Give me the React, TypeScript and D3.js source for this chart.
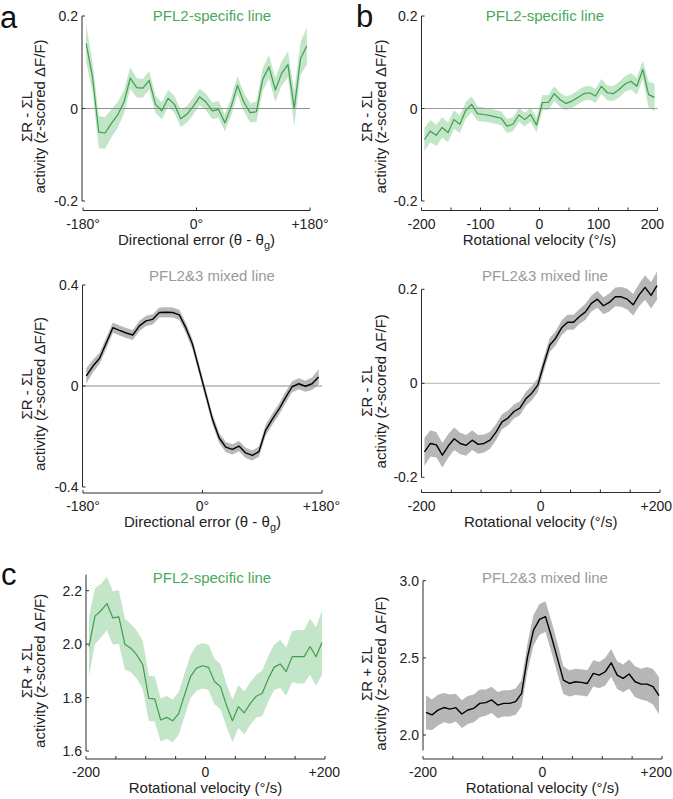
import React from 'react';
import * as d3 from 'd3';

// ---------- data ----------
const DIR_BINS = [-175, -165, -155, -145, -135, -125, -115, -105, -95, -85, -75, -65, -55, -45, -35, -25, -15, -5, 5, 15, 25, 35, 45, 55, 65, 75, 85, 95, 105, 115, 125, 135, 145, 155, 165, 175];
const VEL_BINS = [-195, -185, -175, -165, -155, -145, -135, -125, -115, -105, -95, -85, -75, -65, -55, -45, -35, -25, -15, -5, 5, 15, 25, 35, 45, 55, 65, 75, 85, 95, 105, 115, 125, 135, 145, 155, 165, 175, 185, 195];

// a (top): PFL2-specific, R-L vs directional error
const A1_MEAN = [0.141, 0.069, -0.051, -0.053, -0.032, -0.014, 0.014, 0.066, 0.045, 0.044, 0.061, 0.009, -0.005, 0.022, 0.009, -0.022, -0.012, 0.005, 0.025, 0.014, -0.005, -0.002, -0.031, 0.004, 0.05, 0.014, -0.009, -0.007, 0.063, 0.09, 0.04, 0.076, 0.095, 0.0, 0.108, 0.135];
const A1_SEM = [0.04, 0.032, 0.035, 0.034, 0.03, 0.028, 0.025, 0.023, 0.021, 0.02, 0.02, 0.019, 0.018, 0.018, 0.018, 0.018, 0.018, 0.018, 0.018, 0.018, 0.018, 0.018, 0.018, 0.019, 0.02, 0.02, 0.021, 0.022, 0.024, 0.025, 0.026, 0.026, 0.028, 0.038, 0.035, 0.04];

// b (top): PFL2-specific, R-L vs rotational velocity
const B1_MEAN = [-0.067, -0.049, -0.058, -0.041, -0.052, -0.024, -0.034, -0.004, 0.009, -0.011, -0.013, -0.015, -0.018, -0.021, -0.038, -0.034, -0.014, -0.024, -0.013, -0.036, 0.013, 0.013, 0.032, 0.019, 0.011, 0.016, 0.024, 0.032, 0.034, 0.027, 0.048, 0.034, 0.032, 0.041, 0.053, 0.059, 0.048, 0.084, 0.03, 0.024];
const B1_SEM = [0.025, 0.024, 0.023, 0.022, 0.021, 0.02, 0.019, 0.018, 0.017, 0.016, 0.015, 0.015, 0.015, 0.015, 0.015, 0.015, 0.015, 0.015, 0.015, 0.016, 0.016, 0.016, 0.016, 0.015, 0.015, 0.015, 0.015, 0.015, 0.015, 0.015, 0.016, 0.016, 0.016, 0.017, 0.017, 0.018, 0.018, 0.02, 0.028, 0.03];

// a (bottom): PFL2&3 mixed, R-L vs directional error
const A2_MEAN = [0.04, 0.079, 0.11, 0.17, 0.231, 0.22, 0.21, 0.202, 0.238, 0.258, 0.264, 0.291, 0.292, 0.291, 0.282, 0.23, 0.165, 0.066, -0.033, -0.132, -0.205, -0.242, -0.251, -0.238, -0.265, -0.275, -0.26, -0.176, -0.132, -0.093, -0.046, -0.003, 0.009, -0.001, 0.009, 0.036];
const A2_SEM = [0.03, 0.025, 0.022, 0.022, 0.02, 0.02, 0.02, 0.02, 0.02, 0.02, 0.02, 0.02, 0.02, 0.02, 0.02, 0.02, 0.02, 0.02, 0.02, 0.02, 0.02, 0.02, 0.02, 0.02, 0.02, 0.02, 0.02, 0.022, 0.022, 0.022, 0.022, 0.022, 0.022, 0.022, 0.025, 0.03];

// b (bottom): PFL2&3 mixed, R-L vs rotational velocity
const B2_MEAN = [-0.146, -0.128, -0.131, -0.153, -0.133, -0.118, -0.128, -0.132, -0.121, -0.13, -0.128, -0.121, -0.104, -0.082, -0.074, -0.06, -0.053, -0.033, -0.021, -0.004, 0.04, 0.081, 0.096, 0.118, 0.13, 0.13, 0.142, 0.152, 0.17, 0.179, 0.165, 0.172, 0.184, 0.184, 0.179, 0.167, 0.188, 0.204, 0.187, 0.208];
const B2_SEM = [0.03, 0.028, 0.027, 0.026, 0.025, 0.024, 0.023, 0.022, 0.021, 0.02, 0.019, 0.018, 0.017, 0.016, 0.016, 0.015, 0.015, 0.015, 0.015, 0.015, 0.015, 0.015, 0.015, 0.016, 0.016, 0.016, 0.016, 0.017, 0.017, 0.018, 0.018, 0.019, 0.02, 0.021, 0.022, 0.023, 0.024, 0.026, 0.028, 0.03];

// c (left): PFL2-specific, R+L vs rotational velocity
const C1_MEAN = [1.991, 2.105, 2.125, 2.152, 2.098, 2.102, 2.0, 1.985, 1.96, 1.923, 1.797, 1.795, 1.716, 1.726, 1.713, 1.74, 1.81, 1.879, 1.91, 1.919, 1.913, 1.86, 1.841, 1.772, 1.713, 1.766, 1.743, 1.778, 1.805, 1.816, 1.87, 1.914, 1.926, 1.897, 1.953, 1.953, 1.953, 1.991, 1.953, 2.006];
const C1_SEM = [0.11, 0.105, 0.1, 0.1, 0.1, 0.1, 0.095, 0.09, 0.09, 0.09, 0.085, 0.085, 0.08, 0.08, 0.08, 0.08, 0.08, 0.08, 0.085, 0.085, 0.085, 0.085, 0.085, 0.08, 0.08, 0.08, 0.08, 0.08, 0.08, 0.085, 0.085, 0.085, 0.09, 0.09, 0.095, 0.1, 0.1, 0.105, 0.11, 0.12];

// c (right): PFL2&3 mixed, R+L vs rotational velocity
const C2_MEAN = [2.147, 2.13, 2.161, 2.178, 2.168, 2.177, 2.136, 2.162, 2.173, 2.205, 2.21, 2.227, 2.194, 2.205, 2.205, 2.216, 2.27, 2.506, 2.68, 2.749, 2.767, 2.637, 2.497, 2.356, 2.334, 2.345, 2.341, 2.334, 2.399, 2.388, 2.41, 2.468, 2.388, 2.367, 2.395, 2.345, 2.33, 2.33, 2.313, 2.255];
const C2_SEM = [0.11, 0.1, 0.1, 0.095, 0.095, 0.09, 0.09, 0.09, 0.09, 0.09, 0.085, 0.085, 0.085, 0.085, 0.085, 0.085, 0.085, 0.09, 0.1, 0.1, 0.1, 0.1, 0.1, 0.09, 0.085, 0.085, 0.085, 0.085, 0.085, 0.085, 0.09, 0.09, 0.09, 0.09, 0.095, 0.1, 0.1, 0.11, 0.115, 0.12];

// ticks
const DIR_TICKS = [-180, 0, 180];
const DIR_TICK_LABELS = ['-180°', '0°', '+180°'];
const VEL_TICKS = [-200, -150, -100, -50, 0, 50, 100, 150, 200];
const B1_LABEL_TICKS = [-200, -100, 0, 100, 200];
const B1_LABELS = ['-200', '-100', '0', '100', '200'];
const VEL_LABEL_TICKS = [-200, 0, 200];
const VEL_LABELS = ['-200', '0', '+200'];
const RL_TICKS_02 = [-0.2, 0, 0.2];
const RL_LABELS_02 = ['-0.2', '0', '0.2'];
const RL_TICKS_04 = [-0.4, 0, 0.4];
const RL_LABELS_04 = ['-0.4', '0', '0.4'];
const C1_TICKS = [1.6, 1.8, 2.0, 2.2];
const C1_LABELS = ['1.6', '1.8', '2.0', '2.2'];
const C2_TICKS = [2.0, 2.5, 3.0];
const C2_LABELS = ['2.0', '2.5', '3.0'];

// ---------- styles ----------
const FONT = '"Liberation Sans", Arial, Helvetica, sans-serif';
const GREEN_LINE = '#3f9e4f';
const GREEN_BAND = '#c3e5c8';
const GREEN_TEXT = '#4aa85a';
const GRAY_BAND = '#b7b7b7';
const GRAY_TEXT = '#9a9a9a';
const AXIS = '#2b2b2b';
const TICK_FS = 14;

type Cfg = {
  xs: number[]; mean: number[]; sem: number[];
  xDomain: [number, number]; xRange: [number, number];
  yDomain: [number, number]; yRange: [number, number];
  yAxisExtent: [number, number];
  yAxisX: number; xAxisY: number;
  xTicks: number[]; xLabelTicks: number[]; xLabels: string[];
  labelMaxRight: number;
  yTicks: number[]; yLabels: string[];
  zero: boolean; zeroColor: string;
  lineColor: string; lineWidth: number; bandColor: string;
  title: string; titleColor: string; titleX: number; titleY: number;
  xTitle: 'dir' | 'vel';
  yLine1: string; yLabelX1: number; yLabelX2: number;
};

function labelWidth(s: string, fs: number) {
  let w = 0;
  for (const ch of s) {
    if (ch === '+') w += 0.584;
    else if (ch === '-') w += 0.333;
    else if (ch === '°') w += 0.4;
    else if (ch === '.') w += 0.278;
    else w += 0.556;
  }
  return w * fs;
}

function Panel({ c }: { c: Cfg }) {
  const x = d3.scaleLinear().domain(c.xDomain).range(c.xRange);
  const y = d3.scaleLinear().domain(c.yDomain).range(c.yRange);
  const pts = c.xs.map((v, i) => ({ x: v, m: c.mean[i], e: c.sem[i] }));
  const area = d3.area<any>().x(d => x(d.x)).y0(d => y(d.m - d.e)).y1(d => y(d.m + d.e));
  const line = d3.line<any>().x(d => x(d.x)).y(d => y(d.m));
  const yTop = y(c.yAxisExtent[1]);
  const yBot = y(c.yAxisExtent[0]);
  const yMid = (yTop + yBot) / 2 + 8;
  const xl = x(c.xDomain[0]);
  const xr = x(c.xDomain[1]);
  return (
    <g>
      <path d={area(pts) || ''} fill={c.bandColor} stroke="none" />
      {c.zero && (
        <line x1={c.yAxisX} x2={xr} y1={y(0)} y2={y(0)} stroke={c.zeroColor} strokeWidth={1} />
      )}
      <path d={line(pts) || ''} fill="none" stroke={c.lineColor} strokeWidth={c.lineWidth} strokeLinejoin="round" />
      {/* y axis */}
      <line x1={c.yAxisX} x2={c.yAxisX} y1={yTop} y2={yBot} stroke={AXIS} strokeWidth={1} />
      {c.yTicks.map((t, i) => (
        <g key={'yt' + i}>
          <line x1={c.yAxisX} x2={c.yAxisX + 3} y1={y(t)} y2={y(t)} stroke={AXIS} strokeWidth={1} />
          <text x={c.yAxisX - 4} y={y(t)} dy="0.36em" textAnchor="end" fontSize={TICK_FS} fill="#222" fontFamily={FONT}>
            {c.yLabels[i]}
          </text>
        </g>
      ))}
      {/* x axis */}
      <line x1={xl} x2={xr} y1={c.xAxisY} y2={c.xAxisY} stroke={AXIS} strokeWidth={1} />
      {c.xTicks.map((t, i) => (
        <line key={'xt' + i} x1={x(t)} x2={x(t)} y1={c.xAxisY} y2={c.xAxisY - 3} stroke={AXIS} strokeWidth={1} />
      ))}
      {c.xLabelTicks.map((t, i) => {
        const hw = labelWidth(c.xLabels[i], TICK_FS) / 2;
        const cx = Math.min(x(t), c.labelMaxRight - hw);
        return (
          <text key={'xl' + i} x={cx} y={c.xAxisY + 18} textAnchor="middle" fontSize={TICK_FS} fill="#222" fontFamily={FONT}>
            {c.xLabels[i]}
          </text>
        );
      })}
      <text x={(xl + xr) / 2} y={c.xAxisY + 34} textAnchor="middle" fontSize={15} fill="#222" fontFamily={FONT}>
        {c.xTitle === 'dir' ? (
          <>
            Directional error (θ - θ<tspan dy="4" fontSize={11}>g</tspan><tspan dy="-4">)</tspan>
          </>
        ) : (
          'Rotational velocity (°/s)'
        )}
      </text>
      {/* y label */}
      <text transform={`translate(${c.yLabelX1},${yMid}) rotate(-90)`} textAnchor="middle" fontSize={15} fill="#222" fontFamily={FONT}>
        {c.yLine1}
      </text>
      <text transform={`translate(${c.yLabelX2},${yMid}) rotate(-90)`} textAnchor="middle" fontSize={15} fill="#222" fontFamily={FONT}>
        activity (z-scored ΔF/F)
      </text>
      {/* title */}
      <text x={c.titleX} y={c.titleY} textAnchor="middle" fontSize={15} fill={c.titleColor} fontFamily={FONT}>
        {c.title}
      </text>
    </g>
  );
}

const LEFT = { yLabelX1: 32, yLabelX2: 45, titleX: 212, labelMaxRight: 340 };
const RIGHT = { yLabelX1: 372, yLabelX2: 386, titleX: 545 };

const panels: Cfg[] = [
  {
    xs: DIR_BINS, mean: A1_MEAN, sem: A1_SEM,
    xDomain: [-180, 180], xRange: [83, 310],
    yDomain: [-0.2, 0.2], yRange: [201, 16], yAxisExtent: [-0.2, 0.2],
    yAxisX: 82, xAxisY: 210.5,
    xTicks: DIR_TICKS, xLabelTicks: DIR_TICKS, xLabels: DIR_TICK_LABELS,
    yTicks: RL_TICKS_02, yLabels: RL_LABELS_02, zero: true, zeroColor: '#8f8f8f',
    lineColor: GREEN_LINE, lineWidth: 1.2, bandColor: GREEN_BAND,
    title: 'PFL2-specific line', titleColor: GREEN_TEXT, titleY: 21,
    xTitle: 'dir', yLine1: 'ΣR - ΣL', ...LEFT,
  },
  {
    xs: VEL_BINS, mean: B1_MEAN, sem: B1_SEM,
    xDomain: [-200, 200], xRange: [421.5, 657.5],
    yDomain: [-0.2, 0.2], yRange: [201, 16], yAxisExtent: [-0.2, 0.2],
    yAxisX: 421.5, xAxisY: 210.5,
    xTicks: VEL_TICKS, xLabelTicks: B1_LABEL_TICKS, xLabels: B1_LABELS, labelMaxRight: 664,
    yTicks: RL_TICKS_02, yLabels: RL_LABELS_02, zero: true, zeroColor: '#9a9a9a',
    lineColor: GREEN_LINE, lineWidth: 1.2, bandColor: GREEN_BAND,
    title: 'PFL2-specific line', titleColor: GREEN_TEXT, titleY: 21,
    xTitle: 'vel', yLine1: 'ΣR - ΣL', ...RIGHT,
  },
  {
    xs: DIR_BINS, mean: A2_MEAN, sem: A2_SEM,
    xDomain: [-180, 180], xRange: [83, 322],
    yDomain: [-0.4, 0.4], yRange: [487, 285], yAxisExtent: [-0.4, 0.4],
    yAxisX: 82.5, xAxisY: 493,
    xTicks: DIR_TICKS, xLabelTicks: DIR_TICKS, xLabels: DIR_TICK_LABELS,
    yTicks: RL_TICKS_04, yLabels: RL_LABELS_04, zero: true, zeroColor: '#8f8f8f',
    lineColor: '#000', lineWidth: 1.4, bandColor: GRAY_BAND,
    title: 'PFL2&3 mixed line', titleColor: GRAY_TEXT, titleY: 281,
    xTitle: 'dir', yLine1: 'ΣR - ΣL', ...LEFT,
  },
  {
    xs: VEL_BINS, mean: B2_MEAN, sem: B2_SEM,
    xDomain: [-200, 200], xRange: [421.5, 660],
    yDomain: [-0.2, 0.2], yRange: [477.3, 289.3], yAxisExtent: [-0.2, 0.2],
    yAxisX: 421.5, xAxisY: 492.5,
    xTicks: VEL_TICKS, xLabelTicks: VEL_LABEL_TICKS, xLabels: VEL_LABELS, labelMaxRight: 672,
    yTicks: RL_TICKS_02, yLabels: RL_LABELS_02, zero: true, zeroColor: '#b5b5b5',
    lineColor: '#000', lineWidth: 1.4, bandColor: GRAY_BAND,
    title: 'PFL2&3 mixed line', titleColor: GRAY_TEXT, titleY: 281,
    xTitle: 'vel', yLine1: 'ΣR - ΣL', ...RIGHT,
  },
  {
    xs: VEL_BINS, mean: C1_MEAN, sem: C1_SEM,
    xDomain: [-200, 200], xRange: [86, 325],
    yDomain: [1.6, 2.2], yRange: [751, 590.7], yAxisExtent: [1.6, 2.26],
    yAxisX: 86, xAxisY: 759,
    xTicks: VEL_TICKS, xLabelTicks: VEL_LABEL_TICKS, xLabels: VEL_LABELS,
    yTicks: C1_TICKS, yLabels: C1_LABELS, zero: false, zeroColor: '#999',
    lineColor: GREEN_LINE, lineWidth: 1.2, bandColor: GREEN_BAND,
    title: 'PFL2-specific line', titleColor: GREEN_TEXT, titleY: 583,
    xTitle: 'vel', yLine1: 'ΣR + ΣL', ...LEFT,
  },
  {
    xs: VEL_BINS, mean: C2_MEAN, sem: C2_SEM,
    xDomain: [-200, 200], xRange: [423, 662],
    yDomain: [2.0, 3.0], yRange: [735, 580.7], yAxisExtent: [1.9, 3.0],
    yAxisX: 423, xAxisY: 759,
    xTicks: VEL_TICKS, xLabelTicks: VEL_LABEL_TICKS, xLabels: VEL_LABELS, labelMaxRight: 672,
    yTicks: C2_TICKS, yLabels: C2_LABELS, zero: false, zeroColor: '#999',
    lineColor: '#000', lineWidth: 1.4, bandColor: GRAY_BAND,
    title: 'PFL2&3 mixed line', titleColor: GRAY_TEXT, titleY: 583,
    xTitle: 'vel', yLine1: 'ΣR + ΣL', ...RIGHT,
  },
];

export default function App() {
  return (
    <svg
      width={673}
      height={799}
      viewBox="0 0 673 799"
      style={{ position: 'absolute', left: 0, top: 0, background: '#fff' }}
    >
      <rect x={0} y={0} width={673} height={799} fill="#fff" />
      {panels.map((p, i) => (
        <Panel key={i} c={p} />
      ))}
      <text x={0} y={28} fontSize={31} fill="#111" fontFamily={FONT}>a</text>
      <text x={356} y={27} fontSize={31} fill="#111" fontFamily={FONT}>b</text>
      <text x={1} y={585} fontSize={31} fill="#111" fontFamily={FONT}>c</text>
    </svg>
  );
}
